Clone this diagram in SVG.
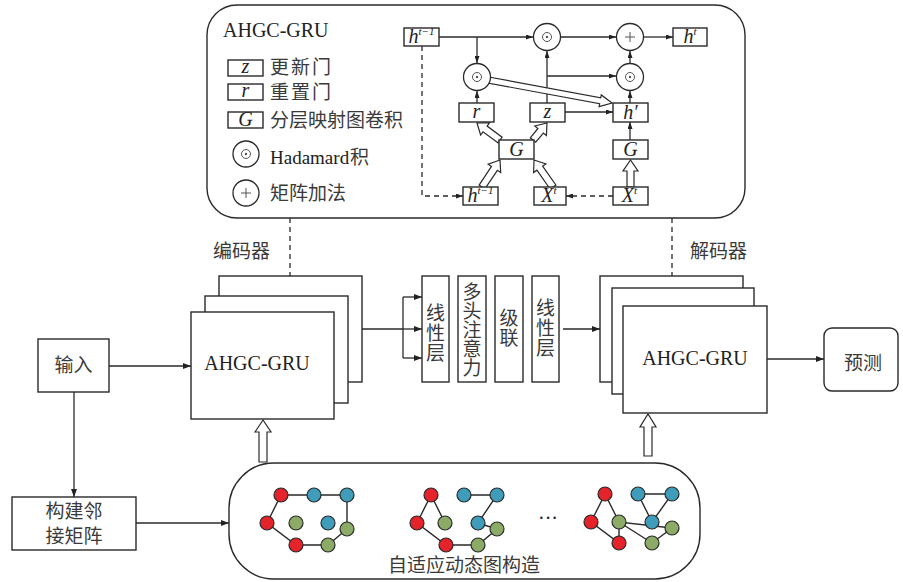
<svg xmlns="http://www.w3.org/2000/svg" width="903" height="582" viewBox="0 0 903 582">
<style>
.bx{fill:#fff;stroke:#2a2a2a;stroke-width:1.4}
.ln{fill:none;stroke:#2a2a2a;stroke-width:1.3}
.dl{fill:none;stroke:#2a2a2a;stroke-width:1.3;stroke-dasharray:5 4}
.ha{fill:#fff;stroke:#2a2a2a;stroke-width:1.2}
.cn{font-family:"Noto Sans CJK SC","Noto Sans",sans-serif;font-size:19px;fill:#3a3a3a}
.vt{font-family:"Noto Sans CJK SC","Noto Sans",sans-serif;font-size:19px;fill:#3a3a3a;writing-mode:vertical-rl}
.ser{font-family:"Liberation Serif","Times New Roman",serif;font-size:20px;fill:#222}
.it{font-family:"Liberation Serif","Times New Roman",serif;font-style:italic;font-size:20px;fill:#222}
.sup{font-size:11px}
.nd{stroke:#2a2a2a;stroke-width:1.2}
.rd{fill:#e4232a}
.bl{fill:#3f9dbb}
.gr{fill:#8cab66}
.ge{stroke:#2a2a2a;stroke-width:1.4;fill:none}
.op{fill:#fff;stroke:#2a2a2a;stroke-width:1.3}
.opi{fill:none;stroke:#555;stroke-width:1}
</style>
<defs>
<marker id="ah" viewBox="0 0 8 6" refX="8" refY="3" markerWidth="8" markerHeight="6" orient="auto" markerUnits="userSpaceOnUse"><path d="M0,0 L8,3 L0,6 z" fill="#222"/></marker>
<marker id="as" viewBox="0 0 7 5" refX="7" refY="2.5" markerWidth="7" markerHeight="5" orient="auto" markerUnits="userSpaceOnUse"><path d="M0,0 L7,2.5 L0,5 z" fill="#222"/></marker>
</defs>

<g id="ahgc-panel">
<rect x="207" y="5" width="538" height="213" rx="30" class="bx"/>
<text x="223" y="37" class="ser">AHGC-GRU</text>
</g>

<g id="legend">
<rect x="228" y="60" width="35" height="16" class="bx"/><text x="245.5" y="73" class="it" font-size="18" text-anchor="middle">z</text>
<text x="270" y="74" class="cn" font-size="17" letter-spacing="2">更新门</text>
<rect x="228" y="84" width="35" height="16" class="bx"/><text x="245.5" y="97" class="it" font-size="18" text-anchor="middle">r</text>
<text x="270" y="98.5" class="cn" font-size="17" letter-spacing="2">重置门</text>
<rect x="228" y="112" width="35" height="16" class="bx"/><text x="245.5" y="126" class="it" font-size="18" text-anchor="middle">G</text>
<text x="270" y="127" class="cn">分层映射图卷积</text>
<circle cx="246" cy="154" r="13" class="op"/><circle cx="246" cy="154" r="4.5" class="opi"/><circle cx="246" cy="154" r="1.2" fill="#555"/>
<text x="270" y="164" font-family="'Liberation Serif', 'Times New Roman', serif" font-size="19" fill="#222">Hadamard</text>
<text x="350" y="164" class="cn">积</text>
<circle cx="246" cy="193" r="13" class="op"/><path d="M241,193 H251 M246,188 V198" class="opi"/>
<text x="270" y="200" class="cn">矩阵加法</text>
</g>

<g id="cell-connectors">
<path d="M439,37 H533" class="ln" marker-end="url(#as)"/>
<path d="M477,37 V63" class="ln" marker-end="url(#as)"/>
<path d="M561,37 H616" class="ln" marker-end="url(#as)"/>
<path d="M644,37 H673" class="ln" marker-end="url(#as)"/>
<path d="M630,63 V51" class="ln" marker-end="url(#as)"/>
<path d="M630,103 V91" class="ln" marker-end="url(#as)"/>
<path d="M547,103 V51" class="ln" marker-end="url(#as)"/>
<path d="M547,76 H616" class="ln" marker-end="url(#as)"/>
<path d="M477,103 V91" class="ln" marker-end="url(#as)"/>
<path d="M565,112 H613" class="ln" marker-end="url(#as)"/>
<path d="M630,140 V122" class="ln" marker-end="url(#as)"/>
<path d="M422,46 V196 H463" class="dl" marker-end="url(#as)"/>
<path d="M613,196 H566" class="dl" marker-end="url(#as)"/>
<polygon points="486,76.5 600.75,97.85 601.3,94.9 612,103 599.1,106.7 599.65,103.75 485,82.5" class="ha"/>
<polygon points="479.1,185.1 491.5,166.4 488.2,164.2 500,160 500.7,172.5 497.4,170.3 484.9,188.9" class="ha"/>
<polygon points="550.1,189 536.9,170.2 533.6,172.5 534,160 545.9,163.9 542.6,166.2 555.9,185" class="ha"/>
<polygon points="497.9,142.8 483,131.8 480.6,135 477,123 489.5,122.9 487.1,126.1 502.1,137.2" class="ha"/>
<polygon points="530.3,137.8 537.9,128.5 534.8,126 547,123 546.4,135.5 543.4,133 535.7,142.2" class="ha"/>
<polygon points="627,187 627,171 623,171 630.5,160 638,171 634,171 634,187" class="ha"/>
</g>

<g id="cell-nodes">
<g id="h-prev-top"><rect x="404" y="28" width="35" height="18" class="bx"/><text x="421.5" y="43" class="it" text-anchor="middle">h<tspan class="sup" dy="-8">t−1</tspan></text></g>
<g id="hadamard-top"><circle cx="547" cy="37" r="13.5" class="op"/><circle cx="547" cy="37" r="4.5" class="opi"/><circle cx="547" cy="37" r="1.2" fill="#555"/></g>
<g id="plus-top"><circle cx="630" cy="37" r="13.5" class="op"/><path d="M625,37 H635 M630,32 V42" class="opi"/></g>
<g id="h-t"><rect x="673" y="28" width="34" height="18" class="bx"/><text x="690" y="43" class="it" text-anchor="middle">h<tspan class="sup" dy="-8">t</tspan></text></g>
<g id="hadamard-left"><circle cx="477" cy="77" r="13.5" class="op"/><circle cx="477" cy="77" r="4.5" class="opi"/><circle cx="477" cy="77" r="1.2" fill="#555"/></g>
<g id="hadamard-right"><circle cx="630" cy="77" r="13.5" class="op"/><circle cx="630" cy="77" r="4.5" class="opi"/><circle cx="630" cy="77" r="1.2" fill="#555"/></g>
<g id="r-box"><rect x="459" y="103" width="35" height="19" class="bx"/><text x="476.5" y="118" class="it" text-anchor="middle">r</text></g>
<g id="z-box"><rect x="530" y="103" width="35" height="19" class="bx"/><text x="547.5" y="118" class="it" text-anchor="middle">z</text></g>
<g id="h-cand"><rect x="613" y="103" width="35" height="19" class="bx"/><text x="630.5" y="119" class="it" text-anchor="middle">h′</text></g>
<g id="G-mid"><rect x="499" y="140" width="35" height="19" class="bx"/><text x="516.5" y="156" class="it" text-anchor="middle">G</text></g>
<g id="G-right"><rect x="613" y="140" width="35" height="19" class="bx"/><text x="630.5" y="156" class="it" text-anchor="middle">G</text></g>
<g id="h-prev-bottom"><rect x="463" y="187" width="35" height="18" class="bx"/><text x="480.5" y="202" class="it" text-anchor="middle">h<tspan class="sup" dy="-8">t−1</tspan></text></g>
<g id="x-mid"><rect x="534" y="187" width="32" height="18" class="bx"/><text x="549" y="202" class="it" text-anchor="middle">X<tspan class="sup" dy="-8">t</tspan></text></g>
<g id="x-right"><rect x="613" y="187" width="35" height="18" class="bx"/><text x="629.5" y="202" class="it" text-anchor="middle">X<tspan class="sup" dy="-8">t</tspan></text></g>
</g>

<g id="connectors">
<path d="M290,218 V276" class="dl"/>
<path d="M672,218 V276" class="dl"/>
<path d="M109,366 H191" class="ln" marker-end="url(#ah)"/>
<path d="M74,392 V497" class="ln" marker-end="url(#ah)"/>
<path d="M136,523 H229" class="ln" marker-end="url(#ah)"/>
<path d="M362,329 H403" class="ln"/>
<path d="M403,297 V358" class="ln"/>
<path d="M403,297 H422" class="ln" marker-end="url(#ah)"/>
<path d="M403,329 H422" class="ln" marker-end="url(#ah)"/>
<path d="M403,358 H422" class="ln" marker-end="url(#ah)"/>
<path d="M563,329 H600" class="ln" marker-end="url(#ah)"/>
<path d="M767,359 H824" class="ln" marker-end="url(#ah)"/>
<polygon points="259,462 259,432 255,432 263,420 271,432 267,432 267,462" class="ha"/>
<polygon points="644,456 644,427 640,427 648,414 656,427 652,427 652,456" class="ha"/>
</g>

<text x="213" y="258" class="cn">编码器</text>
<text x="690" y="258" class="cn">解码器</text>

<g id="input"><rect x="38" y="339" width="71" height="53" class="bx"/><text x="73.5" y="372" class="cn" text-anchor="middle">输入</text></g>

<g id="encoder">
<rect x="219" y="276" width="143" height="106" class="bx"/>
<rect x="205" y="296" width="143" height="107" class="bx"/>
<rect x="191" y="312" width="143" height="107" class="bx"/>
<text x="257" y="370" class="ser" text-anchor="middle">AHGC-GRU</text>
</g>

<g id="linear1"><rect x="422" y="276" width="27" height="106" class="bx"/>
<text x="435.5" y="303" class="vt" letter-spacing="1">线性层</text></g>
<g id="mha"><rect x="458" y="276" width="28" height="106" class="bx"/>
<text x="472" y="282" class="vt">多头注意力</text></g>
<g id="concat"><rect x="495" y="276" width="28" height="106" class="bx"/>
<text x="509" y="308" class="vt" letter-spacing="1">级联</text></g>
<g id="linear2"><rect x="532" y="276" width="27" height="106" class="bx"/>
<text x="545.5" y="298" class="vt" letter-spacing="1">线性层</text></g>

<g id="decoder">
<rect x="600" y="276" width="143" height="106" class="bx"/>
<rect x="612" y="288" width="142" height="106" class="bx"/>
<rect x="623" y="306" width="144" height="107" class="bx"/>
<text x="695" y="365" class="ser" text-anchor="middle">AHGC-GRU</text>
</g>

<g id="predict"><rect x="824" y="328" width="74" height="63" rx="8" class="bx"/><text x="863" y="370" class="cn" text-anchor="middle">预测</text></g>

<g id="adjacency"><rect x="12" y="497" width="124" height="53" class="bx"/>
<text x="74" y="518" class="cn" text-anchor="middle">构建邻</text><text x="74" y="543" class="cn" text-anchor="middle">接矩阵</text></g>

<g id="dynamic-graph">
<rect x="229" y="463" width="471" height="116" rx="45" class="bx"/>
<text x="464" y="572" class="cn" text-anchor="middle">自适应动态图构造</text>
<text x="548" y="525" class="ser" font-size="16" text-anchor="middle">···</text>
<path class="ge" d="M281,495 L314,495 L347,495 L347,529 L328,545 L296,545 L267,523 Z"/>
<g class="nd">
<circle cx="281" cy="495" r="7" class="rd"/><circle cx="314" cy="495" r="7" class="bl"/><circle cx="347" cy="495" r="7" class="bl"/>
<circle cx="267" cy="523" r="7" class="rd"/><circle cx="296" cy="523" r="7" class="gr"/><circle cx="328" cy="523" r="7" class="bl"/>
<circle cx="347" cy="529" r="7" class="gr"/><circle cx="296" cy="545" r="7" class="rd"/><circle cx="328" cy="545" r="7" class="gr"/>
</g>
<path class="ge" d="M445,523 L431,495 L417,523 L446,545 L478,545 L497,529 L478,523 L497,495 L464,495"/>
<g class="nd">
<circle cx="431" cy="495" r="7" class="rd"/><circle cx="464" cy="495" r="7" class="bl"/><circle cx="497" cy="495" r="7" class="bl"/>
<circle cx="417" cy="523" r="7" class="rd"/><circle cx="445" cy="523" r="7" class="gr"/><circle cx="478" cy="523" r="7" class="bl"/>
<circle cx="497" cy="529" r="7" class="gr"/><circle cx="446" cy="545" r="7" class="rd"/><circle cx="478" cy="545" r="7" class="gr"/>
</g>
<path class="ge" d="M619,522 L605,494 L591,522 L619,543 L619,522 L672,528 L652,543 L619,522 M638,494 L672,494 L652,522 Z"/>
<g class="nd">
<circle cx="605" cy="494" r="7" class="rd"/><circle cx="638" cy="494" r="7" class="bl"/><circle cx="672" cy="494" r="7" class="bl"/>
<circle cx="591" cy="522" r="7" class="rd"/><circle cx="619" cy="522" r="7" class="gr"/><circle cx="652" cy="522" r="7" class="bl"/>
<circle cx="672" cy="528" r="7" class="gr"/><circle cx="619" cy="543" r="7" class="rd"/><circle cx="652" cy="543" r="7" class="gr"/>
</g>
</g>
</svg>
